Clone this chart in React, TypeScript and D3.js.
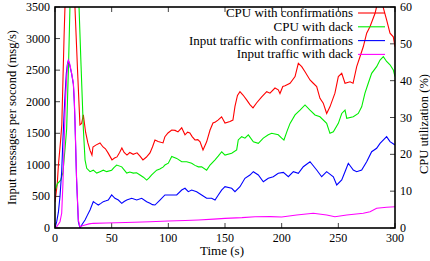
import React from 'react';
import * as d3 from 'd3';

// [time (s), value]
const cpuConf: [number, number][] = [
  [0,7],[2,12],[3,17],[5,24],[6,28],[7,40],[8,52],[9,62],[12,75],[15,74],[17.6,60],[20,42],[22,28],[23.5,28.4],[25,30.7],[27,26],[29,23.1],[31,21],[32.6,19.8],[33.5,22],[36,22.5],[39.7,23.1],[42.4,22],[44.5,21.5],[46.8,20.4],[50.3,18.5],[52.5,19],[54.7,19.3],[57,20.5],[59,21.7],[61,20.5],[63.5,19.8],[66,20.5],[69,20],[72.4,20.4],[75,19.5],[77.6,18.5],[80.5,19.2],[83.8,20.4],[86,22],[88.2,23.9],[91,23.5],[95.3,23.1],[97,24.8],[99.7,25.8],[103,26.6],[106,26.5],[108.5,26.1],[111.8,27.2],[114.7,25.3],[117,26],[119,25.8],[121,24.8],[123.5,23.9],[126,24],[128,23.4],[130.6,21.2],[133.8,23.4],[136.8,26.6],[139.4,28.5],[141.5,28.8],[143.8,29.3],[147,30.2],[150,28.5],[154.4,28.9],[157,29.3],[158.8,33],[161,36],[163.2,37],[165.9,36.1],[169.1,34.8],[172,33.5],[174.7,32.6],[178,34],[182.4,35.6],[186.8,37],[189.7,36.6],[194.1,38],[197,37.5],[198.5,36.5],[201,38.4],[203,38.6],[207.4,39.3],[211.8,41.1],[214.7,44.7],[217.7,43.8],[220.6,42.4],[225,40.2],[227.9,39.3],[230.9,38.4],[233.8,35.2],[236.7,33.9],[239.7,31.1],[242.6,32.9],[247,36.6],[250,41.1],[253,42],[255.9,39.3],[260.3,39.7],[263,39.3],[266.2,43.8],[269.1,46.5],[272,49.2],[275,52.9],[278,54.7],[282.4,58.3],[283.8,60.1],[286,62],[288,61.5],[289.4,60.1],[292.6,56.5],[295.6,52.9],[298.5,51.9],[300,49.2]
];

const cpuDack: [number, number][] = [
  [0,10],[2,12],[5,13],[7,15],[9,22],[10.3,27],[12,45],[13.2,60],[14.5,70],[18,76],[21.2,60],[23,44],[25,27],[26.5,18.5],[28,16.2],[30.9,15.3],[33.8,15.7],[36.8,14.9],[39.7,15.3],[42.6,15.7],[45.6,15.3],[50,15.7],[52,16.4],[54.4,17.1],[58.9,16.6],[61,15.8],[63.3,14.9],[66,15.2],[69.1,14.9],[72,15],[75,14.4],[78,13.8],[80.9,13],[83,13.6],[85.3,14.4],[89.7,15.7],[92.5,16],[95.6,16.6],[97,17.1],[100,17.6],[103,19.4],[107.4,18.9],[111.8,18],[116.2,18],[120.6,17.6],[123.5,17],[126.5,16.6],[129.4,16.6],[133.8,15.7],[136.8,17.1],[141.2,18.5],[144,19.5],[147.1,20.7],[150,19.8],[155.9,20.3],[160.3,21.2],[161.7,23.9],[164.7,24.8],[167.6,24.4],[170.6,25.3],[175,23.4],[179.4,23],[183.8,24.4],[188.2,25.3],[191.2,25.7],[197,25.3],[200,24.4],[202,23.9],[205,26.5],[207.4,28.4],[211.8,30.7],[216.2,32],[220.6,33.4],[225,32],[229.4,30.7],[233.8,30.2],[239.7,28.4],[242.6,25.7],[245.6,26.1],[250,28.4],[253,31.1],[255.9,32],[257.4,29.8],[263.2,30.2],[267.6,31.1],[270.6,32.9],[273.5,36.6],[276.4,39.3],[279.4,42],[283.8,43.8],[286.8,45.6],[289.7,46.5],[292.6,45.2],[295.6,44.3],[298.5,42.9],[300,41.1]
];

const inConf: [number, number][] = [
  [0,0],[1.5,100],[3,250],[4.4,500],[5.9,900],[7,1400],[8,1800],[9,2150],[10,2450],[11,2600],[11.8,2650],[13,2580],[14.7,2440],[16.2,2280],[17,2000],[17.6,1700],[19,780],[20.6,100],[22,0],[24,60],[26.5,127],[28.5,200],[30.9,285],[33.8,417],[36,390],[38.2,364],[40.5,390],[42.6,417],[45,430],[47,443],[50,523],[52.9,470],[55.9,443],[58.9,391],[61,420],[63.3,443],[67.7,470],[72.1,443],[76.5,470],[80.9,417],[83.8,391],[86,370],[88.2,364],[92.6,443],[97,523],[100,523],[103,523],[107.4,523],[111.8,602],[114.7,629],[117.6,575],[120.6,602],[125,575],[129.4,523],[133.8,470],[138.2,470],[141.2,443],[144.1,523],[147,600],[150,654],[155.9,629],[158.8,575],[163.2,654],[167.6,787],[172,839],[175,892],[179.4,839],[183.8,733],[188.2,787],[192.6,812],[197,866],[201.5,880],[205.9,812],[210.3,892],[214.7,866],[219.1,971],[225,1050],[230.9,919],[235.3,812],[239.7,892],[245.6,812],[248.6,681],[253,760],[255.9,892],[258.8,1025],[263.2,919],[266.2,892],[270.6,919],[275,1050],[279.4,1208],[283.8,1262],[286.8,1341],[292.6,1446],[295.6,1367],[300,1315]
];

const inDack: [number, number][] = [
  [0,0],[1.5,20],[4.4,100],[5.9,233],[7,700],[8,1300],[9,1900],[10,2300],[11,2580],[11.8,2660],[13,2600],[14.7,2450],[16.2,2290],[17,2050],[17.6,1740],[19,812],[20.6,127],[22,20],[24,35],[26.5,48],[30,65],[33.8,74],[45,80],[54.4,84],[70,92],[83.8,100],[100,110],[115,118],[126.5,127],[140,140],[150,153],[165,165],[176.5,179],[190,180],[200,175],[213.2,206],[227.9,233],[239.7,206],[247,179],[257.4,206],[272,233],[278,258],[283.8,312],[292.6,328],[300,337]
];

const xTicks = [0, 50, 100, 150, 200, 250, 300];
const yTicks = [0, 500, 1000, 1500, 2000, 2500, 3000, 3500];
const y2Ticks = [0, 10, 20, 30, 40, 50, 60];

const series = [
  { name: 'CPU with confirmations', data: cpuConf, axis: 'y2', color: '#ff0000' },
  { name: 'CPU with dack', data: cpuDack, axis: 'y2', color: '#00ee00' },
  { name: 'Input traffic with confirmations', data: inConf, axis: 'y', color: '#0000ff' },
  { name: 'Input traffic with dack', data: inDack, axis: 'y', color: '#ff00ff' },
];

const W = 430, H = 261;
const left = 55, right = 395, top = 7, bottom = 228;
const font = '"Liberation Serif", "DejaVu Serif", serif';

export default function App() {
  const x = d3.scaleLinear().domain([0, 300]).range([left, right]);
  const y = d3.scaleLinear().domain([0, 3500]).range([bottom, top]);
  const y2 = d3.scaleLinear().domain([0, 60]).range([bottom, top]);

  return (
    <svg width={W} height={H} style={{ position: 'absolute', left: 0, top: 0, background: '#fff' }}
      fontFamily={font}>
      <defs>
        <clipPath id="plot">
          <rect x={left} y={top} width={right - left} height={bottom - top} />
        </clipPath>
      </defs>

      {/* ticks */}
      {xTicks.map(t => (
        <g key={'x' + t}>
          <line x1={x(t)} x2={x(t)} y1={bottom} y2={bottom - 5} stroke="#444" />
          <line x1={x(t)} x2={x(t)} y1={top} y2={top + 5} stroke="#444" />
          <text x={x(t)} y={241.5} fontSize={12} textAnchor="middle">{t}</text>
        </g>
      ))}
      {yTicks.map(v => (
        <g key={'y' + v}>
          <line x1={left} x2={left + 5} y1={y(v)} y2={y(v)} stroke="#444" />
          <text x={50} y={y(v) + 4} fontSize={12} textAnchor="end">{v}</text>
        </g>
      ))}
      {y2Ticks.map(v => (
        <g key={'y2' + v}>
          <line x1={right} x2={right - 5} y1={y2(v)} y2={y2(v)} stroke="#444" />
          <text x={400} y={y2(v) + 4} fontSize={12} textAnchor="start">{v}</text>
        </g>
      ))}

      {/* lines */}
      <g clipPath="url(#plot)">
        {series.map(s => {
          const sc = s.axis === 'y2' ? y2 : y;
          const line = d3.line<[number, number]>().x(d => x(d[0])).y(d => sc(d[1]));
          return <path key={s.name} d={line(s.data) || ''} fill="none" stroke={s.color} strokeWidth={1.1} />;
        })}
      </g>

      {/* legend */}
      {series.map((s, i) => {
        const ly = 13 + i * 13.8;
        return (
          <g key={'l' + s.name}>
            <text x={353} y={ly + 4} fontSize={13} textAnchor="end">{s.name}</text>
            <line x1={358} x2={385} y1={ly} y2={ly} stroke={s.color} strokeWidth={1.1} />
          </g>
        );
      })}

      <rect x={left} y={top} width={right - left} height={bottom - top} fill="none" stroke="#000" strokeWidth={1.6} />

      {/* axis titles */}
      <text x={222} y={255} fontSize={13} textAnchor="middle">Time (s)</text>
      <text transform={`translate(16,117.5) rotate(-90)`} fontSize={12.5} textAnchor="middle">
        Input messages per socond (msg/s)
      </text>
      <text transform={`translate(428,124) rotate(-90)`} fontSize={12.5} textAnchor="middle">
        CPU utilization (%)
      </text>
    </svg>
  );
}
